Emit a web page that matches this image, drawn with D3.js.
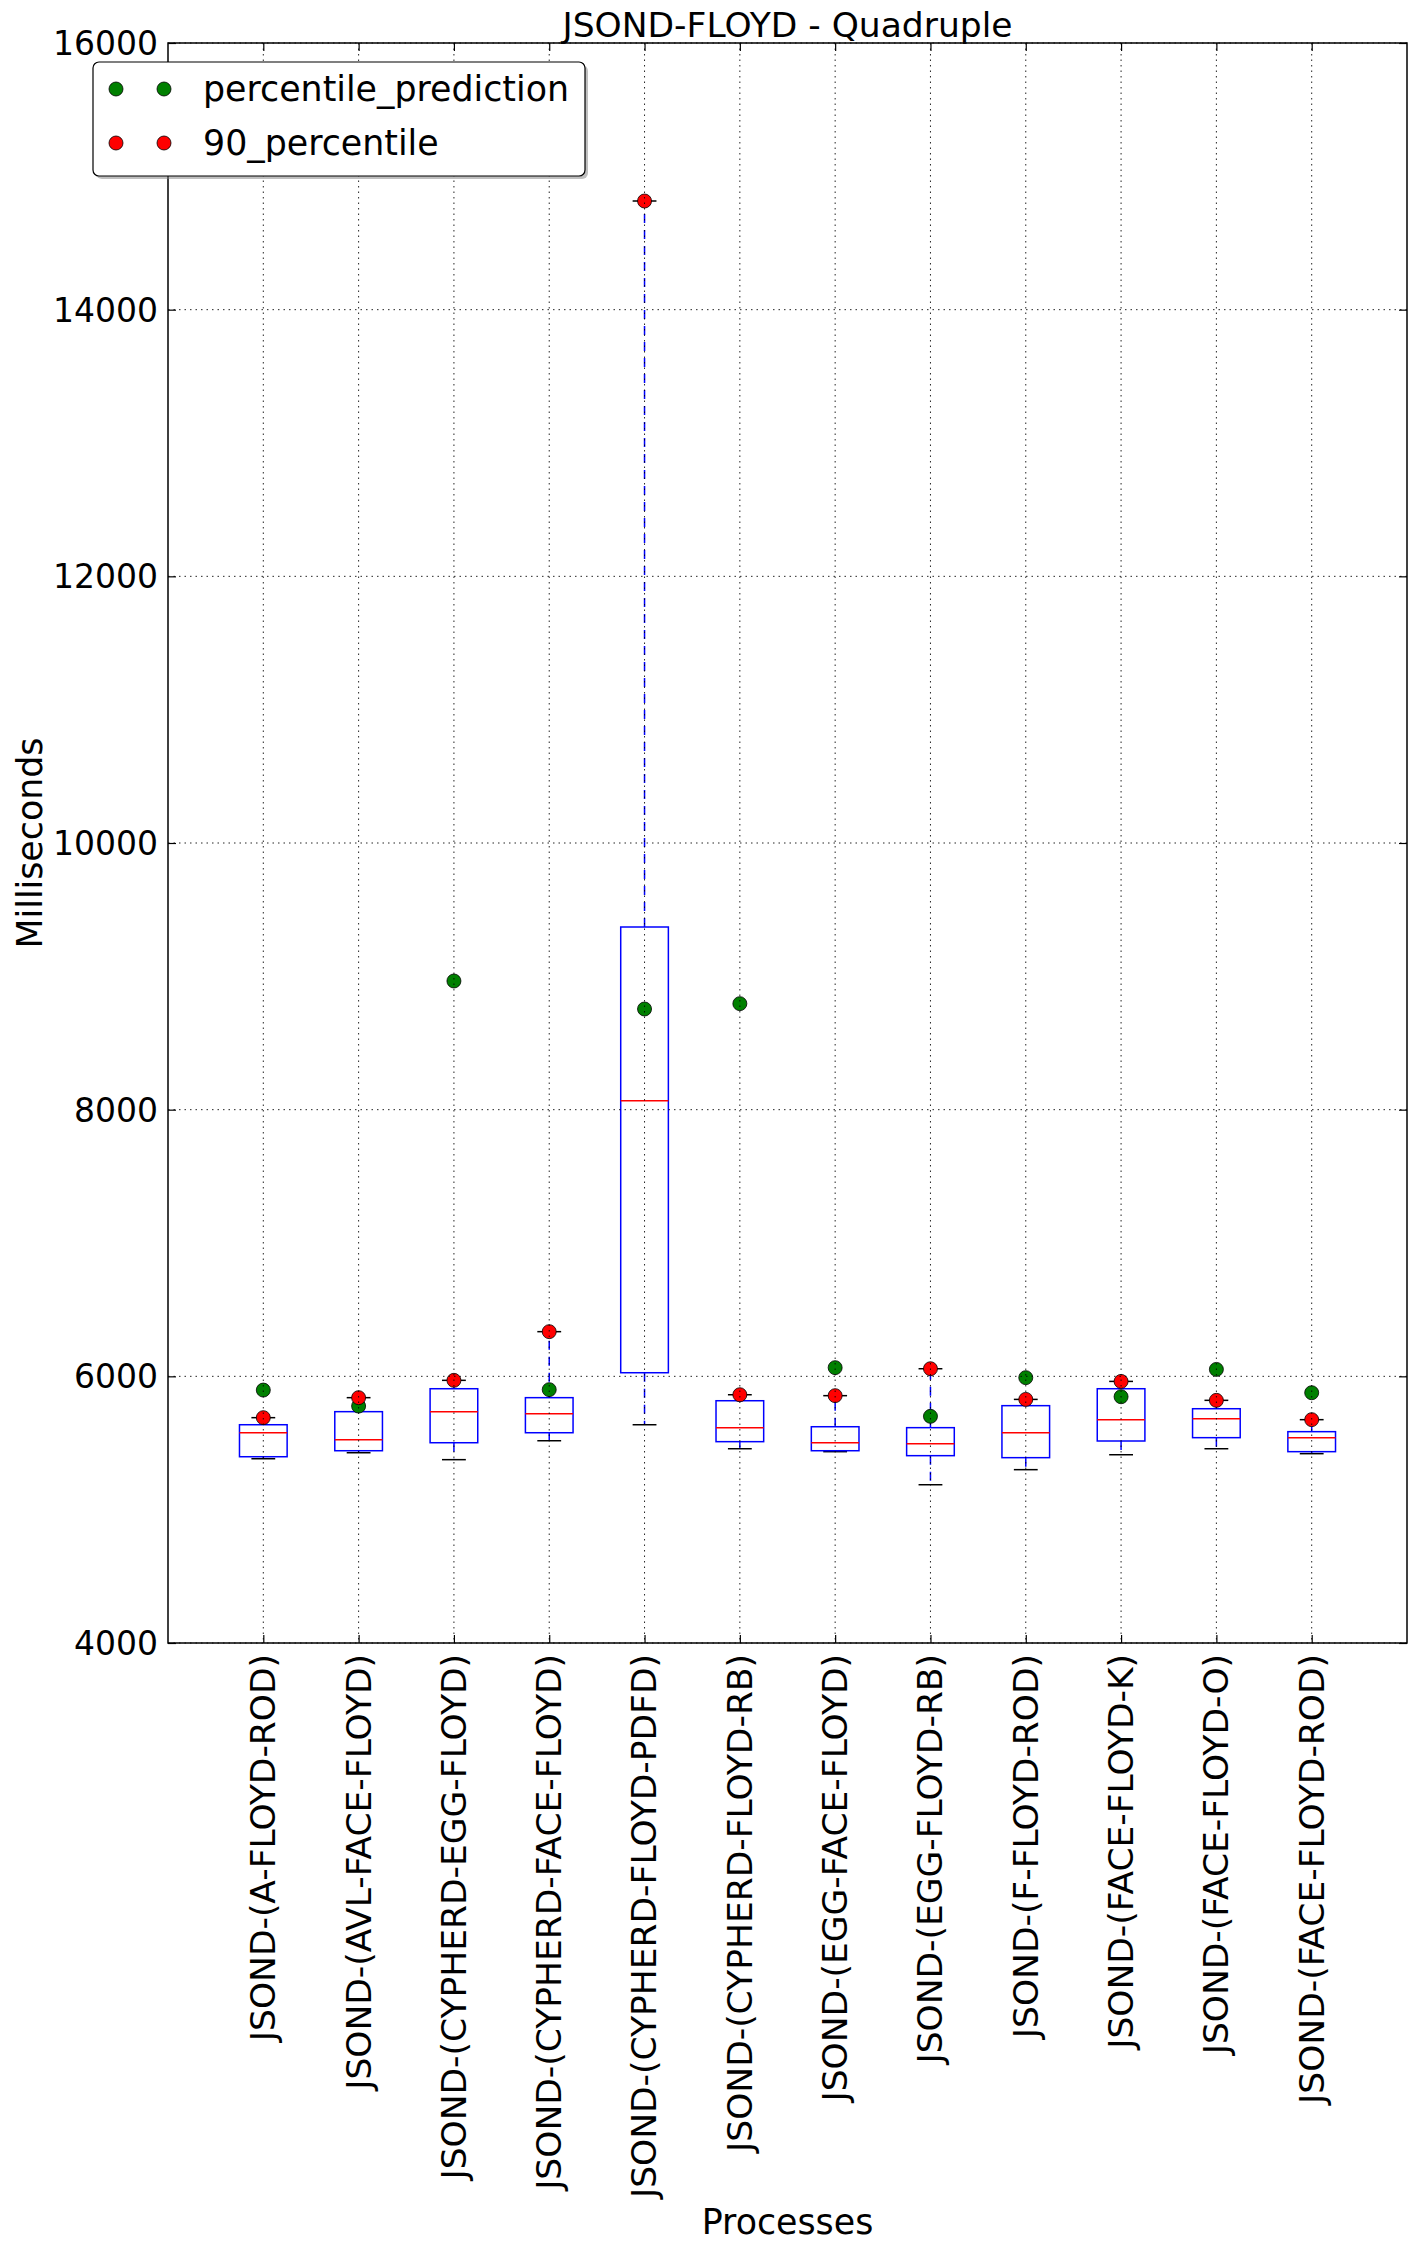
<!DOCTYPE html>
<html><head><meta charset="utf-8">
<script src="https://cdn.jsdelivr.net/npm/d3@7"></script>
<style>
body{margin:0;background:#fff}
svg{display:block}
text{font-family:"DejaVu Sans",sans-serif;fill:#000}
</style>
</head><body>
<svg id="chart" width="1416" height="2251"></svg>
<script>
const categories = [
  "JSOND-(A-FLOYD-ROD)", "JSOND-(AVL-FACE-FLOYD)", "JSOND-(CYPHERD-EGG-FLOYD)",
  "JSOND-(CYPHERD-FACE-FLOYD)", "JSOND-(CYPHERD-FLOYD-PDFD)", "JSOND-(CYPHERD-FLOYD-RB)",
  "JSOND-(EGG-FACE-FLOYD)", "JSOND-(EGG-FLOYD-RB)", "JSOND-(F-FLOYD-ROD)",
  "JSOND-(FACE-FLOYD-K)", "JSOND-(FACE-FLOYD-O)", "JSOND-(FACE-FLOYD-ROD)"
];
const whiskerLow  = [5382, 5427, 5375, 5517, 5637, 5457, 5435, 5187, 5300, 5412, 5457, 5420];
const q1          = [5397, 5442, 5502, 5577, 6027, 5510, 5442, 5405, 5390, 5515, 5540, 5435];
const median      = [5577, 5525, 5735, 5720, 8067, 5615, 5502, 5495, 5577, 5675, 5682, 5540];
const q3          = [5637, 5735, 5907, 5840, 9370, 5817, 5622, 5615, 5780, 5907, 5757, 5585];
const whiskerHigh = [5690, 5840, 5970, 6335, 14815, 5862, 5855, 6057, 5827, 5962, 5820, 5675];
const percentile90 = [5690, 5840, 5970, 6335, 14815, 5862, 5855, 6057, 5827, 5962, 5820, 5675];
const percentilePrediction = [5897, 5777, 8965, 5900, 8755, 8795, 6065, 5700, 5990, 5847, 6052, 5877];
const yTicks = [4000, 6000, 8000, 10000, 12000, 14000, 16000];
const seriesNames = ["percentile_prediction", "90_percentile"];
const seriesColors = ["#008000", "#ff0000"];

const W = 1416, H = 2251;
const m = {left: 168, right: 9, top: 43, bottom: 608};
const pw = W - m.left - m.right, ph = H - m.top - m.bottom;

const svg = d3.select("#chart");
const g = svg.append("g").attr("transform", `translate(${m.left},${m.top})`);

const x = d3.scalePoint().domain(categories).range([0, pw]).padding(1);
const y = d3.scaleLinear().domain([4000, 16000]).range([ph, 0]);

const boxW = x.step() * 0.5;
const capW = boxW / 2;

const data = categories.map((c, i) => ({
  c, lo: whiskerLow[i], q1: q1[i], med: median[i], q3: q3[i], hi: whiskerHigh[i],
  p90: percentile90[i], pred: percentilePrediction[i]
}));

// boxes
const bx = g.append("g");
data.forEach(d => {
  const cx = x(d.c);
  bx.append("line").attr("x1", cx).attr("x2", cx).attr("y1", y(d.q3)).attr("y2", y(d.hi))
    .attr("stroke", "#0000ff").attr("stroke-width", 1.5).attr("stroke-dasharray", "9,7");
  bx.append("line").attr("x1", cx).attr("x2", cx).attr("y1", y(d.q1)).attr("y2", y(d.lo))
    .attr("stroke", "#0000ff").attr("stroke-width", 1.5).attr("stroke-dasharray", "9,7");
  [d.hi, d.lo].forEach(v => {
    bx.append("line").attr("x1", cx - capW/2).attr("x2", cx + capW/2).attr("y1", y(v)).attr("y2", y(v))
      .attr("stroke", "#000").attr("stroke-width", 1.5);
  });
  bx.append("rect").attr("x", cx - boxW/2).attr("y", y(d.q3)).attr("width", boxW)
    .attr("height", y(d.q1) - y(d.q3)).attr("fill", "none").attr("stroke", "#0000ff").attr("stroke-width", 1.5);
  bx.append("line").attr("x1", cx - boxW/2).attr("x2", cx + boxW/2).attr("y1", y(d.med)).attr("y2", y(d.med))
    .attr("stroke", "#ff0000").attr("stroke-width", 1.5);
});

// markers
const mk = g.append("g");
mk.selectAll("circle.pred").data(data).join("circle").attr("class", "pred")
  .attr("cx", d => x(d.c)).attr("cy", d => y(d.pred)).attr("r", 7)
  .attr("fill", seriesColors[0]).attr("stroke", "#000").attr("stroke-width", 0.8);
mk.selectAll("circle.p90").data(data).join("circle").attr("class", "p90")
  .attr("cx", d => x(d.c)).attr("cy", d => y(d.p90)).attr("r", 7)
  .attr("fill", seriesColors[1]).attr("stroke", "#000").attr("stroke-width", 0.8);

// grid
const grid = g.append("g");
grid.selectAll("line.gx").data(categories).join("line").attr("class", "gx")
  .attr("x1", d => x(d)).attr("x2", d => x(d)).attr("y1", 0).attr("y2", ph)
  .attr("stroke", "#000").attr("stroke-width", 1).attr("stroke-dasharray", "1.5,4").attr("opacity", 0.85);
grid.selectAll("line.gy").data(yTicks).join("line").attr("class", "gy")
  .attr("x1", 0).attr("x2", pw).attr("y1", d => y(d)).attr("y2", d => y(d))
  .attr("stroke", "#000").attr("stroke-width", 1).attr("stroke-dasharray", "1.5,4").attr("opacity", 0.85);

// axes
const yAxis = g.append("g").call(d3.axisLeft(y).tickValues(yTicks).tickSize(-8).tickPadding(10).tickFormat(d3.format("d")));
const yAxisR = g.append("g").attr("transform", `translate(${pw},0)`)
  .call(d3.axisRight(y).tickValues(yTicks).tickSize(-8).tickFormat(""));
const xAxis = g.append("g").attr("transform", `translate(0,${ph})`)
  .call(d3.axisBottom(x).tickSize(-8));
const xAxisT = g.append("g").call(d3.axisTop(x).tickSize(-8).tickFormat(""));
[yAxis, yAxisR, xAxis, xAxisT].forEach(a => {
  a.select(".domain").remove();
  a.selectAll(".tick line").attr("stroke", "#000").attr("stroke-width", 1.2);
  a.selectAll("text").style("font-family", '"DejaVu Sans",sans-serif').attr("fill", "#000");
});
yAxis.selectAll("text").style("font-size", "33px").attr("dy", "0.35em");
xAxis.selectAll("text").style("font-size", "34.5px").attr("y", 0).attr("x", -11).attr("dy", "0.33em")
  .attr("transform", "rotate(-90)").style("text-anchor", "end");

// frame
g.append("rect").attr("x", 0).attr("y", 0).attr("width", pw).attr("height", ph)
  .attr("fill", "none").attr("stroke", "#000").attr("stroke-width", 1.5);

// title & labels
svg.append("text").attr("x", m.left + pw/2).attr("y", 37).attr("text-anchor", "middle")
  .style("font-size", "34.5px").text("JSOND-FLOYD - Quadruple");
svg.append("text").attr("x", m.left + pw/2).attr("y", 2234).attr("text-anchor", "middle")
  .style("font-size", "34.8px").text("Processes");
svg.append("text").attr("transform", `translate(42,${m.top + ph/2}) rotate(-90)`).attr("text-anchor", "middle")
  .style("font-size", "34.8px").text("Milliseconds");

// legend
const lg = svg.append("g").attr("transform", "translate(93,62)");
lg.append("rect").attr("x", 3).attr("y", 3).attr("width", 492).attr("height", 114).attr("rx", 6)
  .attr("fill", "#808080").attr("opacity", 0.5);
lg.append("rect").attr("x", 0).attr("y", 0).attr("width", 492).attr("height", 114).attr("rx", 6)
  .attr("fill", "#fff").attr("stroke", "#000").attr("stroke-width", 1.2);
seriesNames.forEach((name, i) => {
  const ry = 27 + i * 54;
  [23, 71].forEach(mx => {
    lg.append("circle").attr("cx", mx).attr("cy", ry).attr("r", 7)
      .attr("fill", seriesColors[i]).attr("stroke", "#000").attr("stroke-width", 0.8);
  });
  lg.append("text").attr("x", 110).attr("y", ry).attr("dy", "0.35em").style("font-size", "34.8px").text(name);
});
</script>
</body></html>
